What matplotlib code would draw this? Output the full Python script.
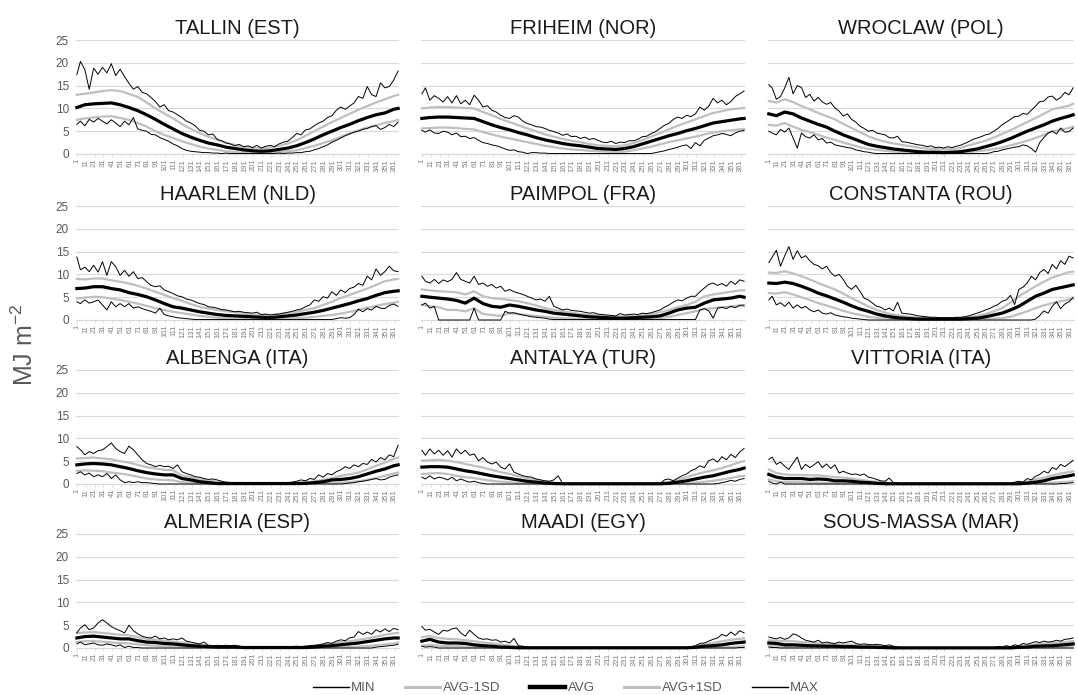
import matplotlib
matplotlib.use("Agg")
import matplotlib.pyplot as plt
from matplotlib.lines import Line2D

plt.rcParams['font.family'] = ['Liberation Sans', 'DejaVu Sans']
plt.rcParams['mathtext.default'] = 'regular'

# day positions: smooth series every 10 days, min/max every 5 days
DAYS = [1] + list(range(10, 361, 10)) + [365]
DAYS_5 = [1] + list(range(5, 366, 5))
TICK_DAYS = list(range(1, 366, 10))

# ---------------- TALLIN ----------------
TALLIN_MAX = [17.4, 20.3, 18.5, 14.2, 18.8, 17.5, 19.0, 17.8, 19.8, 17.2,
              18.6, 17.0, 15.5, 14.2, 14.8, 13.5, 13.2, 12.4, 11.5, 10.3,
              10.8, 9.5, 9.2, 8.6, 8.0, 7.2, 6.8, 6.2, 5.2, 5.0,
              4.2, 4.4, 3.2, 2.9, 2.4, 2.2, 1.8, 2.1, 1.6, 1.8,
              1.4, 1.9, 1.3, 1.7, 1.9, 1.6, 2.2, 2.6, 2.8, 3.6,
              4.5, 4.2, 5.3, 5.5, 6.2, 6.8, 7.2, 8.0, 8.4, 9.6,
              10.3, 9.8, 10.5, 11.2, 12.6, 12.2, 14.8, 13.0, 12.6, 15.6,
              14.5, 14.8, 16.2, 18.2]
TALLIN_MIN = [6.5, 7.2, 6.2, 7.6, 7.0, 7.8, 7.2, 6.6, 7.5, 6.8,
              6.0, 7.2, 6.4, 8.0, 5.5, 5.2, 5.0, 4.3, 4.2, 3.6,
              3.2, 2.8, 2.2, 1.8, 1.2, 0.8, 0.6, 0.5, 0.4, 0.3,
              0.3, 0.2, 0.2, 0.1, 0.2, 0.1, 0.1, 0.1, 0.1, 0.1,
              0.1, 0.1, 0.1, 0.1, 0.1, 0.1, 0.2, 0.1, 0.2, 0.2,
              0.3, 0.3, 0.5, 0.6, 0.9, 1.2, 1.6, 2.0, 2.6, 3.0,
              3.5, 4.0, 4.4, 4.8, 5.0, 5.4, 5.6, 6.0, 6.2, 5.4,
              5.8, 6.5, 6.0, 7.0]
TALLIN_AVG = [10.2, 10.8, 11.0, 11.1, 11.2, 10.8, 10.2, 9.5, 8.6, 7.6,
              6.5, 5.5, 4.5, 3.7, 3.0, 2.4, 2.0, 1.5, 1.2, 0.9,
              0.7, 0.6, 0.7, 1.0, 1.3, 1.8, 2.5, 3.3, 4.2, 5.0,
              5.8, 6.5, 7.3, 8.0, 8.6, 9.0, 9.8, 10.0]
TALLIN_HI = [13.0, 13.2, 13.5, 13.8, 14.0, 13.8, 13.2, 12.5, 11.3, 10.0,
             8.9, 7.8, 6.6, 5.5, 4.6, 3.8, 3.1, 2.5, 2.0, 1.5,
             1.3, 1.2, 1.4, 1.8, 2.3, 3.0, 4.0, 5.0, 6.0, 7.0,
             7.9, 8.8, 9.7, 10.5, 11.3, 12.0, 12.7, 13.0]
TALLIN_LO = [7.5, 7.8, 8.0, 8.2, 8.3, 7.9, 7.5, 6.8, 6.0, 5.0,
             4.2, 3.5, 2.8, 2.2, 1.6, 1.2, 0.9, 0.6, 0.4, 0.3,
             0.2, 0.2, 0.3, 0.4, 0.6, 0.8, 1.3, 1.8, 2.4, 3.0,
             3.8, 4.5, 5.2, 5.8, 6.3, 6.8, 7.2, 7.5]

# ---------------- FRIHEIM ----------------
FRIHEIM_MAX = [13.2, 14.5, 11.8, 12.8, 12.2, 11.4, 12.6, 11.2, 12.8, 11.0,
               11.8, 10.8, 12.9, 11.8, 10.3, 10.6, 9.6, 9.2, 8.5, 8.0,
               7.8, 8.4, 8.1, 7.2, 6.7, 6.4, 6.0, 5.9, 5.6, 5.2,
               4.9, 4.6, 4.1, 4.4, 3.8, 3.9, 3.4, 3.7, 3.2, 3.4,
               3.0, 2.6, 2.5, 2.8, 2.3, 2.6, 2.5, 2.9, 2.9, 3.2,
               3.8, 3.9, 4.5, 4.9, 5.6, 6.3, 6.7, 7.6, 8.1, 7.8,
               8.5, 8.2, 8.8, 10.3, 9.6, 10.5, 12.2, 11.2, 11.8, 10.8,
               11.5, 12.6, 13.2, 13.8]
FRIHEIM_MIN = [5.2, 4.8, 5.3, 4.6, 4.5, 5.0, 4.8, 4.2, 4.6, 3.8,
               3.9, 3.4, 3.6, 3.0, 2.5, 2.3, 2.0, 1.8, 1.5, 1.1,
               0.8, 0.9, 0.5, 0.4, 0.1, 0.3, 0.3, 0.2, 0.2, 0.1,
               0.1, 0.1, 0.1, 0.1, 0.1, 0.1, 0.1, 0.1, 0.1, 0.1,
               0.1, 0.1, 0.1, 0.1, 0.1, 0.1, 0.1, 0.1, 0.1, 0.1,
               0.1, 0.1, 0.1, 0.3, 0.5, 0.7, 1.0, 1.2, 1.5, 1.8,
               2.0, 1.2, 2.5, 1.8, 3.0, 3.5, 4.0, 4.2, 4.5, 4.3,
               4.0, 4.6, 5.0, 5.2]
FRIHEIM_AVG = [7.8, 8.0, 8.1, 8.1, 8.0, 7.9, 7.8, 7.1, 6.4, 5.8,
               5.3, 4.7, 4.2, 3.6, 3.1, 2.7, 2.3, 2.0, 1.8, 1.5,
               1.2, 1.1, 1.0, 1.2, 1.6, 2.2, 2.8, 3.4, 4.0, 4.5,
               5.1, 5.6, 6.2, 6.8, 7.1, 7.4, 7.7, 7.8]
FRIHEIM_HI = [10.0, 10.2, 10.3, 10.3, 10.2, 10.1, 10.0, 9.2, 8.5, 7.7,
              7.0, 6.3, 5.6, 5.0, 4.3, 3.8, 3.3, 2.9, 2.6, 2.2,
              1.9, 1.8, 1.7, 1.9, 2.4, 3.0, 3.8, 4.6, 5.4, 6.2,
              6.9, 7.6, 8.3, 9.0, 9.4, 9.8, 10.0, 10.1]
FRIHEIM_LO = [5.6, 5.7, 5.8, 5.8, 5.7, 5.5, 5.4, 4.8, 4.3, 3.8,
              3.4, 3.0, 2.6, 2.2, 1.8, 1.5, 1.2, 1.0, 0.9, 0.7,
              0.6, 0.5, 0.4, 0.5, 0.8, 1.2, 1.6, 2.1, 2.6, 3.0,
              3.4, 3.8, 4.3, 4.7, 5.0, 5.2, 5.4, 5.5]

# ---------------- WROCLAW ----------------
WROCLAW_MAX = [15.2, 14.5, 12.0, 12.6, 14.5, 16.8, 13.2, 15.0, 14.6, 12.4,
               13.1, 11.6, 12.4, 11.4, 10.9, 11.3, 10.1, 9.4, 8.3, 8.8,
               7.6, 7.0, 6.1, 5.6, 5.0, 5.2, 4.6, 4.4, 4.2, 3.6,
               3.5, 3.9, 2.7, 2.6, 2.4, 2.2, 2.0, 1.9, 1.6, 1.8,
               1.4, 1.5, 1.3, 1.6, 1.4, 1.7, 1.9, 2.3, 2.7, 3.2,
               3.5, 3.8, 4.2, 4.4, 5.0, 5.6, 6.4, 7.0, 7.6, 8.2,
               8.3, 8.9, 8.7, 9.6, 10.5, 11.5, 11.6, 12.5, 12.7, 11.8,
               12.4, 13.5, 13.0, 14.5]
WROCLAW_MIN = [5.0, 4.6, 4.2, 5.4, 4.8, 5.7, 3.5, 1.3, 4.6, 3.8,
               3.5, 4.2, 3.1, 3.4, 2.4, 2.6, 2.0, 1.8, 1.6, 1.4,
               1.3, 0.9, 0.7, 0.5, 0.4, 0.2, 0.1, 0.1, 0.1, 0.1,
               0.1, 0.1, 0.1, 0.1, 0.1, 0.1, 0.1, 0.1, 0.1, 0.1,
               0.1, 0.1, 0.1, 0.1, 0.1, 0.1, 0.1, 0.1, 0.1, 0.1,
               0.1, 0.1, 0.1, 0.2, 0.5, 0.6, 0.9, 1.1, 1.3, 1.5,
               1.6, 2.0, 1.8, 1.2, 0.4, 2.5, 3.6, 4.6, 5.0, 4.4,
               5.7, 4.8, 4.9, 5.7]
WROCLAW_AVG = [8.8, 8.4, 9.2, 8.8, 7.9, 7.2, 6.5, 5.9, 5.0, 4.2,
               3.5, 2.8, 2.1, 1.7, 1.4, 1.1, 0.9, 0.7, 0.5, 0.4,
               0.4, 0.3, 0.4, 0.5, 0.8, 1.1, 1.6, 2.1, 2.7, 3.4,
               4.2, 5.0, 5.7, 6.4, 7.2, 7.8, 8.3, 8.6]
WROCLAW_HI = [11.6, 11.3, 12.0, 11.4, 10.5, 9.8, 9.0, 8.3, 7.6, 6.6,
              5.7, 4.8, 3.9, 3.2, 2.7, 2.3, 2.0, 1.7, 1.4, 1.2,
              1.1, 1.0, 1.1, 1.3, 1.9, 2.4, 2.9, 3.6, 4.4, 5.2,
              6.1, 7.0, 7.9, 8.8, 9.8, 10.2, 10.6, 11.0]
WROCLAW_LO = [6.4, 6.2, 6.8, 6.0, 5.3, 4.8, 4.2, 3.6, 3.1, 2.5,
              2.0, 1.5, 1.1, 0.9, 0.7, 0.5, 0.4, 0.3, 0.2, 0.2,
              0.2, 0.2, 0.2, 0.2, 0.4, 0.6, 0.8, 1.1, 1.4, 1.9,
              2.4, 2.9, 3.5, 4.2, 5.0, 5.3, 5.7, 6.0]

# ---------------- HAARLEM ----------------
HAARLEM_MAX = [13.8, 11.0, 11.6, 10.6, 12.0, 10.5, 12.8, 9.8, 12.8, 11.7,
               9.8, 10.9, 9.6, 10.6, 9.1, 9.3, 8.4, 7.6, 7.3, 7.5,
               6.6, 6.2, 5.8, 5.3, 5.1, 4.6, 4.4, 4.0, 3.6, 3.4,
               2.9, 2.8, 2.6, 2.3, 2.2, 2.0, 1.8, 1.9, 1.7, 1.6,
               1.5, 1.7, 1.2, 1.3, 1.1, 1.2, 1.3, 1.5, 1.7, 1.9,
               2.2, 2.4, 2.9, 3.3, 4.4, 4.1, 5.1, 4.8, 6.2, 5.4,
               6.6, 6.0, 6.9, 7.2, 8.0, 7.6, 9.6, 8.8, 11.2, 9.8,
               10.6, 11.8, 10.8, 10.6]
HAARLEM_MIN = [4.0, 3.6, 4.4, 3.7, 4.0, 4.4, 3.3, 2.2, 4.0, 2.9,
               3.6, 2.9, 3.6, 2.6, 2.9, 2.5, 2.2, 1.9, 1.5, 2.6,
               1.2, 0.9, 0.7, 0.5, 0.4, 0.3, 0.2, 0.1, 0.1, 0.1,
               0.1, 0.1, 0.1, 0.1, 0.1, 0.1, 0.1, 0.1, 0.1, 0.1,
               0.1, 0.1, 0.1, 0.1, 0.1, 0.1, 0.1, 0.1, 0.1, 0.1,
               0.1, 0.1, 0.1, 0.1, 0.1, 0.1, 0.1, 0.1, 0.1, 0.3,
               0.5, 0.4, 0.5, 1.2, 2.4, 1.8, 2.5, 2.2, 3.0, 2.6,
               2.5, 3.2, 3.5, 3.0]
HAARLEM_AVG = [6.9, 7.0, 7.3, 7.3, 6.9, 6.6, 6.0, 5.6, 5.1, 4.4,
               3.6, 2.9, 2.6, 2.2, 1.8, 1.5, 1.2, 1.0, 0.9, 0.8,
               0.7, 0.6, 0.5, 0.7, 0.9, 1.1, 1.4, 1.7, 2.1, 2.6,
               3.1, 3.6, 4.2, 4.7, 5.4, 6.0, 6.3, 6.4]
HAARLEM_HI = [9.0, 8.9, 9.1, 9.1, 8.7, 8.4, 8.0, 7.5, 6.9, 6.2,
              5.5, 4.8, 4.2, 3.5, 2.9, 2.5, 2.2, 1.9, 1.7, 1.4,
              1.2, 1.1, 1.1, 1.3, 1.5, 1.8, 2.2, 2.6, 3.3, 4.0,
              4.8, 5.5, 6.2, 6.9, 7.7, 8.5, 8.9, 9.0]
HAARLEM_LO = [4.7, 4.9, 5.1, 5.0, 4.7, 4.4, 4.0, 3.6, 3.1, 2.6,
              2.2, 1.8, 1.5, 1.2, 0.9, 0.7, 0.5, 0.4, 0.3, 0.3,
              0.3, 0.3, 0.3, 0.3, 0.3, 0.4, 0.5, 0.7, 0.9, 1.1,
              1.4, 1.8, 2.2, 2.7, 3.1, 3.5, 3.8, 4.0]

# ---------------- PAIMPOL ----------------
PAIMPOL_MAX = [9.6, 8.5, 8.1, 8.9, 8.0, 8.8, 8.4, 8.9, 10.4, 8.9,
               8.5, 8.1, 9.6, 7.8, 8.1, 7.4, 7.8, 7.0, 7.4, 6.3,
               6.7, 6.2, 5.9, 5.6, 5.2, 4.8, 4.4, 4.6, 4.1, 5.2,
               3.0, 2.6, 2.2, 2.4, 2.1, 2.0, 1.9, 1.7, 1.5, 1.6,
               1.3, 1.2, 1.1, 1.0, 0.9, 1.4, 1.1, 1.2, 1.3, 1.2,
               1.5, 1.4, 1.6, 1.9, 2.2, 2.8, 3.3, 3.9, 4.4, 4.2,
               4.8, 5.2, 5.2, 6.2, 7.0, 7.8, 8.1, 7.6, 8.0, 7.4,
               8.5, 7.8, 8.8, 8.5]
PAIMPOL_MIN = [3.3, 3.7, 2.6, 3.0, 0.0, 0.0, 0.0, 0.0, 0.0, 0.0,
               0.0, 0.0, 2.6, 0.0, 0.0, 0.0, 0.0, 0.0, 0.0, 1.9,
               1.5, 1.6, 1.3, 1.1, 0.9, 0.7, 0.6, 0.5, 0.4, 0.2,
               0.1, 0.1, 0.1, 0.1, 0.1, 0.1, 0.1, 0.1, 0.1, 0.1,
               0.1, 0.1, 0.1, 0.1, 0.1, 0.1, 0.1, 0.1, 0.1, 0.1,
               0.1, 0.1, 0.1, 0.1, 0.1, 0.1, 0.1, 0.1, 0.1, 0.1,
               0.1, 0.1, 0.1, 2.2, 2.5, 2.0, 0.4, 2.6, 2.8, 2.5,
               3.0, 2.7, 3.2, 3.3]
PAIMPOL_AVG = [5.2, 5.0, 4.8, 4.6, 4.3, 3.7, 4.8, 3.6, 3.0, 2.8,
               3.3, 3.0, 2.6, 2.2, 1.9, 1.5, 1.3, 1.1, 0.9, 0.7,
               0.6, 0.5, 0.4, 0.4, 0.5, 0.6, 0.7, 0.9, 1.5, 2.2,
               2.6, 2.8, 3.7, 4.4, 4.6, 4.8, 5.2, 5.0]
PAIMPOL_HI = [6.7, 6.5, 6.3, 6.2, 6.1, 5.6, 6.3, 5.2, 4.8, 4.6,
              4.4, 4.1, 3.7, 3.2, 2.6, 2.2, 1.9, 1.6, 1.3, 1.1,
              1.0, 0.8, 0.7, 0.8, 0.9, 1.1, 1.3, 1.7, 2.2, 2.8,
              3.3, 4.0, 5.2, 5.6, 5.9, 6.2, 6.5, 6.5]
PAIMPOL_LO = [3.3, 3.0, 2.8, 2.2, 2.2, 1.9, 2.6, 1.3, 1.1, 0.9,
              1.5, 1.3, 1.1, 0.9, 0.7, 0.5, 0.4, 0.3, 0.2, 0.2,
              0.2, 0.2, 0.2, 0.2, 0.2, 0.2, 0.3, 0.4, 0.7, 1.1,
              1.5, 1.9, 2.4, 2.6, 2.8, 3.0, 3.2, 3.0]

# ---------------- CONSTANTA ----------------
CONSTANTA_MAX = [12.6, 13.8, 15.3, 11.8, 14.1, 16.1, 13.3, 15.2, 13.6, 14.1,
                 13.0, 12.2, 11.9, 11.2, 11.8, 10.4, 9.6, 10.0, 8.9, 7.4,
                 6.7, 7.6, 6.3, 4.8, 4.4, 3.7, 3.0, 2.8, 2.2, 2.6,
                 2.0, 3.9, 1.5, 1.4, 1.3, 1.1, 0.9, 0.8, 0.7, 0.6,
                 0.6, 0.5, 0.5, 0.5, 0.5, 0.6, 0.6, 0.7, 0.9, 1.2,
                 1.5, 1.8, 2.2, 2.5, 3.0, 3.4, 4.1, 4.4, 5.4, 3.4,
                 6.7, 7.2, 8.1, 9.6, 8.8, 10.4, 11.1, 10.2, 12.2, 11.2,
                 13.0, 12.2, 14.0, 13.6]
CONSTANTA_MIN = [4.4, 5.2, 3.3, 3.8, 3.0, 3.9, 2.6, 3.3, 2.6, 3.0,
                 2.2, 1.8, 2.2, 1.5, 1.3, 1.6, 1.1, 0.9, 0.7, 0.6,
                 0.4, 0.3, 0.2, 0.1, 0.0, 0.0, 0.0, 0.0, 0.0, 0.0,
                 0.0, 0.0, 0.0, 0.0, 0.0, 0.0, 0.0, 0.0, 0.0, 0.0,
                 0.0, 0.0, 0.0, 0.0, 0.0, 0.0, 0.0, 0.0, 0.0, 0.0,
                 0.0, 0.0, 0.0, 0.0, 0.0, 0.0, 0.0, 0.0, 0.0, 0.0,
                 0.0, 0.0, 0.0, 0.0, 0.2, 1.0, 2.0, 1.5, 3.0, 4.0,
                 2.5, 3.5, 4.0, 5.0]
CONSTANTA_AVG = [8.1, 8.0, 8.3, 8.0, 7.4, 6.7, 5.9, 5.3, 4.6, 3.9,
                 3.1, 2.4, 1.9, 1.3, 0.9, 0.6, 0.4, 0.3, 0.2, 0.2,
                 0.2, 0.2, 0.2, 0.2, 0.3, 0.4, 0.7, 1.1, 1.5, 2.2,
                 3.0, 4.1, 5.2, 5.9, 6.7, 7.1, 7.5, 7.7]
CONSTANTA_HI = [10.4, 10.3, 10.7, 10.2, 9.6, 8.9, 8.1, 7.4, 6.7, 5.8,
                4.8, 3.9, 3.0, 2.2, 1.6, 1.2, 0.9, 0.7, 0.5, 0.4,
                0.4, 0.4, 0.4, 0.4, 0.6, 0.9, 1.3, 1.9, 2.6, 3.8,
                5.2, 6.3, 7.4, 8.4, 9.3, 9.9, 10.5, 10.6]
CONSTANTA_LO = [5.9, 5.8, 6.1, 5.6, 5.0, 4.4, 3.7, 3.2, 2.6, 2.0,
                1.5, 1.1, 0.7, 0.5, 0.4, 0.2, 0.1, 0.1, 0.1, 0.1,
                0.1, 0.1, 0.1, 0.1, 0.1, 0.1, 0.1, 0.3, 0.4, 0.7,
                1.3, 1.9, 2.6, 3.2, 3.7, 4.1, 4.5, 4.6]

# ---------------- ALBENGA ----------------
ALBENGA_MAX = [8.2, 7.5, 6.4, 7.1, 6.7, 7.3, 7.5, 8.2, 9.0, 7.8,
               7.1, 6.7, 8.3, 7.5, 6.4, 5.3, 4.5, 4.2, 3.8, 4.1,
               3.8, 3.9, 3.4, 4.2, 2.7, 2.3, 2.0, 1.6, 1.5, 1.2,
               1.0, 1.1, 0.9, 0.6, 0.4, 0.3, 0.2, 0.2, 0.2, 0.2,
               0.2, 0.2, 0.2, 0.2, 0.2, 0.2, 0.2, 0.2, 0.3, 0.4,
               0.6, 0.9, 0.7, 1.2, 1.0, 2.0, 1.5, 2.3, 2.0, 2.7,
               3.1, 3.8, 3.4, 4.2, 3.8, 4.5, 4.3, 5.4, 4.8, 5.8,
               5.3, 6.4, 6.0, 8.5]
ALBENGA_MIN = [2.3, 2.7, 2.0, 2.4, 1.6, 2.0, 1.6, 2.3, 1.2, 2.0,
               0.9, 0.3, 0.5, 0.3, 0.5, 0.3, 0.3, 0.2, 0.1, 0.0,
               0.0, 0.0, 0.0, 0.0, 0.0, 0.0, 0.0, 0.0, 0.0, 0.0,
               0.0, 0.0, 0.0, 0.0, 0.0, 0.0, 0.0, 0.0, 0.0, 0.0,
               0.0, 0.0, 0.0, 0.0, 0.0, 0.0, 0.0, 0.0, 0.0, 0.0,
               0.0, 0.0, 0.0, 0.0, 0.0, 0.0, 0.0, 0.0, 0.0, 0.0,
               0.0, 0.1, 0.2, 0.3, 0.5, 0.6, 0.8, 1.0, 1.2, 0.9,
               1.0, 1.5, 1.8, 2.0]
ALBENGA_AVG = [4.2, 4.4, 4.5, 4.4, 4.2, 3.8, 3.4, 2.9, 2.5, 2.2,
               2.0, 2.0, 1.2, 0.9, 0.5, 0.3, 0.1, 0.1, 0.1, 0.1,
               0.1, 0.1, 0.1, 0.1, 0.1, 0.1, 0.15, 0.3, 0.5, 0.9,
               1.0, 1.2, 1.6, 2.2, 2.8, 3.3, 4.0, 4.2]
ALBENGA_HI = [5.6, 5.7, 5.8, 5.6, 5.4, 5.0, 4.7, 4.2, 3.7, 3.4,
              3.1, 3.0, 1.9, 1.5, 1.0, 0.7, 0.5, 0.3, 0.2, 0.2,
              0.2, 0.2, 0.2, 0.2, 0.2, 0.3, 0.3, 0.6, 0.9, 1.3,
              1.8, 2.1, 2.5, 3.2, 4.0, 4.7, 5.5, 5.8]
ALBENGA_LO = [2.9, 3.0, 2.9, 2.8, 2.5, 2.3, 2.0, 1.6, 1.2, 1.0,
              0.9, 0.8, 0.4, 0.3, 0.1, 0.05, 0.0, 0.0, 0.0, 0.0,
              0.0, 0.0, 0.0, 0.0, 0.0, 0.0, 0.0, 0.05, 0.1, 0.2,
              0.3, 0.4, 0.6, 0.9, 1.3, 1.8, 2.3, 2.5]

# ---------------- ANTALYA ----------------
ANTALYA_MAX = [7.4, 6.3, 7.7, 6.6, 7.4, 6.3, 7.3, 5.9, 7.7, 6.6,
               7.4, 6.3, 6.6, 5.1, 5.8, 4.8, 4.4, 4.8, 3.7, 3.3,
               4.4, 2.6, 2.2, 1.8, 1.6, 1.5, 1.1, 0.9, 0.7, 0.6,
               0.9, 1.8, 0.1, 0.05, 0.05, 0.05, 0.05, 0.05, 0.05, 0.05,
               0.05, 0.05, 0.05, 0.05, 0.05, 0.05, 0.05, 0.05, 0.05, 0.05,
               0.05, 0.05, 0.05, 0.05, 0.05, 0.9, 1.1, 0.7, 1.3, 1.8,
               2.2, 2.9, 3.3, 4.0, 3.6, 5.1, 5.5, 4.8, 6.0, 5.3,
               6.5, 5.8, 7.0, 7.8]
ANTALYA_MIN = [1.5, 1.1, 1.8, 1.1, 1.5, 1.3, 0.9, 1.5, 0.7, 1.1,
               0.7, 0.4, 0.6, 0.3, 0.1, 0.0, 0.0, 0.0, 0.0, 0.0,
               0.0, 0.0, 0.0, 0.0, 0.0, 0.0, 0.0, 0.0, 0.0, 0.0,
               0.0, 0.0, 0.0, 0.0, 0.0, 0.0, 0.0, 0.0, 0.0, 0.0,
               0.0, 0.0, 0.0, 0.0, 0.0, 0.0, 0.0, 0.0, 0.0, 0.0,
               0.0, 0.0, 0.0, 0.0, 0.0, 0.0, 0.0, 0.0, 0.0, 0.0,
               0.0, 0.0, 0.0, 0.0, 0.0, 0.0, 0.0, 0.1, 0.3, 0.5,
               0.8, 0.6, 1.0, 1.2]
ANTALYA_AVG = [3.7, 3.8, 3.8, 3.7, 3.3, 2.9, 2.6, 2.2, 1.8, 1.5,
               1.2, 0.9, 0.6, 0.4, 0.2, 0.1, 0.05, 0.05, 0.05, 0.05,
               0.05, 0.05, 0.05, 0.05, 0.05, 0.05, 0.05, 0.05, 0.15, 0.4,
               0.7, 1.1, 1.5, 1.8, 2.3, 2.8, 3.2, 3.5]
ANTALYA_HI = [5.1, 5.2, 5.3, 5.1, 4.8, 4.4, 4.0, 3.6, 3.1, 2.6,
              2.2, 1.7, 1.3, 0.9, 0.6, 0.3, 0.1, 0.05, 0.05, 0.05,
              0.05, 0.05, 0.05, 0.05, 0.05, 0.05, 0.05, 0.1, 0.4, 0.9,
              1.5, 2.1, 2.6, 3.0, 3.5, 4.1, 4.8, 5.0]
ANTALYA_LO = [2.2, 2.3, 2.4, 2.2, 1.8, 1.5, 1.3, 1.0, 0.7, 0.5,
              0.4, 0.2, 0.1, 0.0, 0.0, 0.0, 0.0, 0.0, 0.0, 0.0,
              0.0, 0.0, 0.0, 0.0, 0.0, 0.0, 0.0, 0.0, 0.0, 0.0,
              0.05, 0.3, 0.5, 0.7, 1.0, 1.3, 1.7, 1.8]

# ---------------- VITTORIA ----------------
VITTORIA_MAX = [5.4, 5.9, 4.3, 4.8, 3.9, 3.2, 4.6, 5.9, 3.2, 4.3,
                3.6, 4.2, 4.9, 3.6, 4.4, 3.4, 4.2, 2.4, 2.8, 2.4,
                2.1, 2.2, 1.9, 2.2, 1.5, 1.3, 1.0, 0.7, 0.6, 1.3,
                0.3, 0.2, 0.1, 0.1, 0.1, 0.1, 0.1, 0.1, 0.1, 0.1,
                0.1, 0.1, 0.1, 0.1, 0.1, 0.1, 0.1, 0.1, 0.1, 0.1,
                0.1, 0.1, 0.1, 0.1, 0.1, 0.1, 0.1, 0.1, 0.1, 0.4,
                0.6, 0.4, 1.2, 0.9, 1.7, 2.1, 2.8, 2.4, 3.6, 3.2,
                4.3, 3.8, 4.5, 5.2]
VITTORIA_MIN = [0.6, 0.2, 0.0, 0.4, 0.0, 0.0, 0.0, 0.0, 0.0, 0.0,
                0.0, 0.0, 0.0, 0.0, 0.0, 0.0, 0.0, 0.0, 0.0, 0.0,
                0.0, 0.0, 0.0, 0.0, 0.0, 0.0, 0.0, 0.0, 0.0, 0.0,
                0.0, 0.0, 0.0, 0.0, 0.0, 0.0, 0.0, 0.0, 0.0, 0.0,
                0.0, 0.0, 0.0, 0.0, 0.0, 0.0, 0.0, 0.0, 0.0, 0.0,
                0.0, 0.0, 0.0, 0.0, 0.0, 0.0, 0.0, 0.0, 0.0, 0.0,
                0.0, 0.0, 0.0, 0.0, 0.0, 0.0, 0.0, 0.0, 0.0, 0.0,
                0.1, 0.1, 0.2, 0.3]
VITTORIA_AVG = [2.1, 1.5, 1.2, 1.2, 1.2, 1.0, 1.1, 1.0, 0.7, 0.7,
                0.6, 0.4, 0.3, 0.15, 0.05, 0.05, 0.05, 0.05, 0.05, 0.05,
                0.05, 0.05, 0.05, 0.05, 0.05, 0.05, 0.05, 0.05, 0.05, 0.05,
                0.05, 0.2, 0.4, 0.7, 1.2, 1.5, 1.8, 2.0]
VITTORIA_HI = [3.2, 2.4, 2.1, 2.0, 2.0, 1.9, 1.9, 1.7, 1.5, 1.4,
               1.2, 0.9, 0.7, 0.5, 0.3, 0.1, 0.05, 0.05, 0.05, 0.05,
               0.05, 0.05, 0.05, 0.05, 0.05, 0.05, 0.05, 0.05, 0.05, 0.05,
               0.2, 0.5, 1.0, 1.4, 1.9, 2.3, 2.6, 2.8]
VITTORIA_LO = [1.0, 0.6, 0.4, 0.4, 0.4, 0.3, 0.3, 0.2, 0.15, 0.1,
               0.05, 0.0, 0.0, 0.0, 0.0, 0.0, 0.0, 0.0, 0.0, 0.0,
               0.0, 0.0, 0.0, 0.0, 0.0, 0.0, 0.0, 0.0, 0.0, 0.0,
               0.0, 0.0, 0.05, 0.15, 0.3, 0.4, 0.5, 0.6]

# ---------------- ALMERIA ----------------
ALMERIA_MAX = [3.3, 4.4, 5.1, 4.0, 4.4, 5.5, 6.2, 5.5, 4.7, 4.2,
               3.8, 3.3, 5.0, 3.8, 3.1, 2.6, 2.3, 2.2, 2.6, 2.0,
               2.2, 1.8, 2.0, 1.8, 2.2, 1.5, 1.3, 1.1, 0.9, 1.3,
               0.6, 0.4, 0.6, 0.5, 0.6, 0.5, 0.6, 0.4, 0.1, 0.1,
               0.1, 0.1, 0.1, 0.2, 0.1, 0.1, 0.1, 0.2, 0.1, 0.3,
               0.4, 0.3, 0.4, 0.5, 0.6, 0.7, 0.9, 1.2, 1.0, 1.5,
               1.8, 1.6, 2.2, 2.4, 3.6, 3.0, 3.5, 3.0, 4.0, 3.5,
               4.2, 3.6, 4.3, 4.0]
ALMERIA_MIN = [0.9, 1.3, 0.7, 0.9, 1.1, 0.7, 0.6, 0.9, 0.7, 0.4,
               0.7, 0.1, 0.4, 0.1, 0.1, 0.0, 0.0, 0.0, 0.0, 0.0,
               0.0, 0.0, 0.0, 0.0, 0.0, 0.0, 0.0, 0.0, 0.0, 0.0,
               0.0, 0.0, 0.0, 0.0, 0.0, 0.0, 0.0, 0.0, 0.0, 0.0,
               0.0, 0.0, 0.0, 0.0, 0.0, 0.0, 0.0, 0.0, 0.0, 0.0,
               0.0, 0.0, 0.0, 0.0, 0.0, 0.0, 0.0, 0.0, 0.0, 0.0,
               0.0, 0.0, 0.0, 0.0, 0.0, 0.0, 0.0, 0.0, 0.2, 0.3,
               0.4, 0.5, 0.6, 0.8]
ALMERIA_AVG = [2.2, 2.5, 2.6, 2.4, 2.2, 2.0, 2.0, 1.6, 1.3, 1.2,
               1.0, 0.9, 0.7, 0.5, 0.4, 0.3, 0.2, 0.2, 0.2, 0.1,
               0.1, 0.1, 0.1, 0.1, 0.1, 0.1, 0.1, 0.2, 0.4, 0.5,
               0.7, 0.9, 1.1, 1.4, 1.7, 2.0, 2.2, 2.2]
ALMERIA_HI = [3.3, 3.4, 3.5, 3.3, 3.1, 2.9, 2.8, 2.4, 2.0, 1.8,
              1.6, 1.4, 1.2, 0.9, 0.7, 0.5, 0.4, 0.4, 0.4, 0.2,
              0.15, 0.15, 0.15, 0.15, 0.15, 0.15, 0.3, 0.5, 0.7, 1.0,
              1.3, 1.5, 1.8, 2.1, 2.5, 2.9, 3.2, 3.3]
ALMERIA_LO = [1.3, 1.5, 1.5, 1.4, 1.2, 1.1, 1.0, 0.8, 0.6, 0.5,
              0.4, 0.35, 0.3, 0.2, 0.15, 0.1, 0.05, 0.05, 0.05, 0.05,
              0.05, 0.05, 0.05, 0.05, 0.05, 0.05, 0.05, 0.05, 0.05, 0.05,
              0.1, 0.2, 0.3, 0.4, 0.6, 0.8, 1.0, 1.2]

# ---------------- MAADI ----------------
MAADI_MAX = [4.7, 3.9, 4.1, 3.5, 3.0, 3.9, 3.7, 4.2, 4.4, 3.3,
             2.6, 3.9, 3.0, 2.2, 1.9, 2.0, 1.7, 1.8, 1.3, 1.5,
             1.1, 2.1, 0.5, 0.4, 0.2, 0.05, 0.05, 0.05, 0.05, 0.05,
             0.05, 0.05, 0.05, 0.05, 0.05, 0.05, 0.05, 0.05, 0.05, 0.05,
             0.05, 0.05, 0.05, 0.05, 0.05, 0.05, 0.05, 0.05, 0.05, 0.05,
             0.05, 0.05, 0.05, 0.05, 0.05, 0.05, 0.05, 0.05, 0.05, 0.05,
             0.05, 0.2, 0.5, 1.0, 1.1, 1.5, 1.9, 2.2, 3.0, 2.6,
             3.5, 2.8, 3.8, 3.3]
MAADI_MIN = [0.4, 0.2, 0.3, 0.2, 0.0, 0.0, 0.0, 0.0, 0.0, 0.0,
             0.0, 0.0, 0.0, 0.0, 0.0, 0.0, 0.0, 0.0, 0.0, 0.0,
             0.0, 0.0, 0.0, 0.0, 0.0, 0.0, 0.0, 0.0, 0.0, 0.0,
             0.0, 0.0, 0.0, 0.0, 0.0, 0.0, 0.0, 0.0, 0.0, 0.0,
             0.0, 0.0, 0.0, 0.0, 0.0, 0.0, 0.0, 0.0, 0.0, 0.0,
             0.0, 0.0, 0.0, 0.0, 0.0, 0.0, 0.0, 0.0, 0.0, 0.0,
             0.0, 0.0, 0.0, 0.0, 0.0, 0.0, 0.0, 0.0, 0.0, 0.0,
             0.0, 0.0, 0.1, 0.1]
MAADI_AVG = [1.5, 1.9, 1.3, 1.1, 1.1, 1.0, 0.7, 0.5, 0.4, 0.2,
             0.15, 0.05, 0.05, 0.05, 0.05, 0.05, 0.05, 0.05, 0.05, 0.05,
             0.05, 0.05, 0.05, 0.05, 0.05, 0.05, 0.05, 0.05, 0.05, 0.05,
             0.05, 0.15, 0.4, 0.5, 0.7, 1.0, 1.2, 1.3]
MAADI_HI = [2.4, 2.6, 2.2, 2.0, 1.9, 1.7, 1.5, 1.2, 1.0, 0.8,
            0.5, 0.3, 0.15, 0.05, 0.05, 0.05, 0.05, 0.05, 0.05, 0.05,
            0.05, 0.05, 0.05, 0.05, 0.05, 0.05, 0.05, 0.05, 0.05, 0.05,
            0.05, 0.4, 0.8, 1.1, 1.5, 1.8, 2.0, 2.1]
MAADI_LO = [0.5, 0.7, 0.5, 0.4, 0.4, 0.3, 0.2, 0.15, 0.1, 0.05,
            0.0, 0.0, 0.0, 0.0, 0.0, 0.0, 0.0, 0.0, 0.0, 0.0,
            0.0, 0.0, 0.0, 0.0, 0.0, 0.0, 0.0, 0.0, 0.0, 0.0,
            0.0, 0.0, 0.0, 0.0, 0.1, 0.2, 0.3, 0.4]

# ---------------- SOUS-MASSA ----------------
SOUSMASSA_MAX = [2.4, 2.2, 2.0, 2.3, 1.9, 2.2, 3.1, 2.8, 2.2, 1.7,
                 1.5, 1.3, 1.7, 1.1, 1.3, 1.1, 1.0, 1.3, 1.1, 1.3,
                 1.5, 1.0, 0.8, 0.9, 0.8, 0.7, 0.8, 0.7, 0.5, 0.7,
                 0.4, 0.2, 0.1, 0.1, 0.1, 0.1, 0.1, 0.1, 0.1, 0.1,
                 0.1, 0.1, 0.1, 0.1, 0.1, 0.1, 0.1, 0.1, 0.1, 0.1,
                 0.1, 0.1, 0.1, 0.1, 0.1, 0.3, 0.2, 0.5, 0.3, 0.7,
                 0.5, 1.0, 0.8, 1.1, 1.4, 1.2, 1.5, 1.3, 1.4, 1.7,
                 1.5, 1.9, 2.0, 2.2]
SOUSMASSA_MIN = [0.2, 0.1, 0.1, 0.0, 0.0, 0.0, 0.0, 0.0, 0.0, 0.0,
                 0.0, 0.0, 0.0, 0.0, 0.0, 0.0, 0.0, 0.0, 0.0, 0.0,
                 0.0, 0.0, 0.0, 0.0, 0.0, 0.0, 0.0, 0.0, 0.0, 0.0,
                 0.0, 0.0, 0.0, 0.0, 0.0, 0.0, 0.0, 0.0, 0.0, 0.0,
                 0.0, 0.0, 0.0, 0.0, 0.0, 0.0, 0.0, 0.0, 0.0, 0.0,
                 0.0, 0.0, 0.0, 0.0, 0.0, 0.0, 0.0, 0.0, 0.0, 0.0,
                 0.0, 0.0, 0.0, 0.0, 0.0, 0.0, 0.0, 0.0, 0.0, 0.0,
                 0.0, 0.0, 0.0, 0.0]
SOUSMASSA_AVG = [1.1, 1.0, 0.7, 0.7, 0.6, 0.5, 0.45, 0.4, 0.4, 0.3,
                 0.3, 0.2, 0.2, 0.15, 0.1, 0.03, 0.03, 0.03, 0.03, 0.03,
                 0.03, 0.03, 0.03, 0.03, 0.03, 0.03, 0.03, 0.03, 0.03, 0.03,
                 0.15, 0.2, 0.4, 0.45, 0.5, 0.65, 0.8, 0.9]
SOUSMASSA_HI = [1.7, 1.6, 1.5, 1.5, 1.3, 1.2, 1.0, 0.9, 0.8, 0.75,
                0.7, 0.6, 0.5, 0.4, 0.3, 0.15, 0.05, 0.05, 0.05, 0.05,
                0.05, 0.05, 0.05, 0.05, 0.05, 0.05, 0.05, 0.05, 0.05, 0.05,
                0.4, 0.6, 0.8, 0.95, 1.1, 1.25, 1.4, 1.5]
SOUSMASSA_LO = [0.5, 0.35, 0.2, 0.2, 0.15, 0.1, 0.05, 0.05, 0.05, 0.05,
                0.05, 0.0, 0.0, 0.0, 0.0, 0.0, 0.0, 0.0, 0.0, 0.0,
                0.0, 0.0, 0.0, 0.0, 0.0, 0.0, 0.0, 0.0, 0.0, 0.0,
                0.05, 0.05, 0.1, 0.1, 0.15, 0.2, 0.3, 0.35]

STATIONS = [
    ("TALLIN (EST)", TALLIN_MIN, TALLIN_LO, TALLIN_AVG, TALLIN_HI, TALLIN_MAX),
    ("FRIHEIM (NOR)", FRIHEIM_MIN, FRIHEIM_LO, FRIHEIM_AVG, FRIHEIM_HI, FRIHEIM_MAX),
    ("WROCLAW (POL)", WROCLAW_MIN, WROCLAW_LO, WROCLAW_AVG, WROCLAW_HI, WROCLAW_MAX),
    ("HAARLEM (NLD)", HAARLEM_MIN, HAARLEM_LO, HAARLEM_AVG, HAARLEM_HI, HAARLEM_MAX),
    ("PAIMPOL (FRA)", PAIMPOL_MIN, PAIMPOL_LO, PAIMPOL_AVG, PAIMPOL_HI, PAIMPOL_MAX),
    ("CONSTANTA (ROU)", CONSTANTA_MIN, CONSTANTA_LO, CONSTANTA_AVG, CONSTANTA_HI, CONSTANTA_MAX),
    ("ALBENGA (ITA)", ALBENGA_MIN, ALBENGA_LO, ALBENGA_AVG, ALBENGA_HI, ALBENGA_MAX),
    ("ANTALYA (TUR)", ANTALYA_MIN, ANTALYA_LO, ANTALYA_AVG, ANTALYA_HI, ANTALYA_MAX),
    ("VITTORIA (ITA)", VITTORIA_MIN, VITTORIA_LO, VITTORIA_AVG, VITTORIA_HI, VITTORIA_MAX),
    ("ALMERIA (ESP)", ALMERIA_MIN, ALMERIA_LO, ALMERIA_AVG, ALMERIA_HI, ALMERIA_MAX),
    ("MAADI (EGY)", MAADI_MIN, MAADI_LO, MAADI_AVG, MAADI_HI, MAADI_MAX),
    ("SOUS-MASSA (MAR)", SOUSMASSA_MIN, SOUSMASSA_LO, SOUSMASSA_AVG, SOUSMASSA_HI, SOUSMASSA_MAX),
]

# quick sanity check on list lengths
for name, mn, lo, avg, hi, mx in STATIONS:
    for lab, arr, ref in [("min", mn, DAYS_5), ("lo", lo, DAYS), ("avg", avg, DAYS),
                          ("hi", hi, DAYS), ("max", mx, DAYS_5)]:
        if len(arr) != len(ref):
            raise ValueError(f"{name} {lab}: {len(arr)} != {len(ref)}")

GREY_TXT = '#595959'
GRID = '#d9d9d9'
SD_COL = '#bfbfbf'

# axes placement in figure pixels (left, width) per column, (top of 25, bottom of 0) per row
W, H = 1078, 695
COLS = [(76, 323), (421, 324), (768, 306)]
ROWS = [(40, 154), (206, 320), (370, 484), (534, 648)]

fig = plt.figure(figsize=(W / 100, H / 100), dpi=100)

for i, (name, mn, lo, avg, hi, mx) in enumerate(STATIONS):
    r, c = divmod(i, 3)
    x0, w = COLS[c]
    top, bot = ROWS[r]
    ax = fig.add_axes([x0 / W, 1 - bot / H, w / W, (bot - top) / H])

    ax.plot(DAYS, lo, color=SD_COL, lw=1.6, zorder=2, clip_on=False)
    ax.plot(DAYS, hi, color=SD_COL, lw=1.6, zorder=2, clip_on=False)
    ax.plot(DAYS_5, mn, color='black', lw=0.7, zorder=3, clip_on=False)
    ax.plot(DAYS_5, mx, color='black', lw=0.7, zorder=3, clip_on=False)
    ax.plot(DAYS, avg, color='black', lw=2.3, zorder=4, clip_on=False)

    ax.set_xlim(0, 366)
    ax.set_ylim(0, 25)
    ax.set_yticks([0, 5, 10, 15, 20, 25])
    ax.yaxis.grid(True, color=GRID, lw=0.8)
    ax.set_axisbelow(True)
    for s in ['top', 'right', 'left']:
        ax.spines[s].set_visible(False)
    ax.spines['bottom'].set_color(GRID)
    ax.spines['bottom'].set_linewidth(0.8)

    ax.set_xticks(TICK_DAYS)
    ax.set_xticklabels([str(d) for d in TICK_DAYS], rotation=90, fontsize=5.5, color='#7f7f7f')
    ax.tick_params(axis='x', length=2, width=0.6, color=GRID, pad=1.5)
    if c == 0:
        ax.tick_params(axis='y', length=0, labelsize=8.5, labelcolor=GREY_TXT, pad=5)
    else:
        ax.tick_params(axis='y', length=0, labelleft=False)

    ax.set_title(name, fontsize=14.5, pad=4, color='#1a1a1a')

fig.text(25 / W, 1 - 345 / H, 'MJ m$^{-2}$', rotation=90, fontsize=18,
         color=GREY_TXT, ha='center', va='center')

handles = [
    Line2D([], [], color='black', lw=1.0),
    Line2D([], [], color=SD_COL, lw=2.2),
    Line2D([], [], color='black', lw=3.2),
    Line2D([], [], color=SD_COL, lw=2.2),
    Line2D([], [], color='black', lw=1.0),
]
labels = ['MIN', 'AVG-1SD', 'AVG', 'AVG+1SD', 'MAX']
leg = fig.legend(handles, labels, loc='center', bbox_to_anchor=(566 / W, 1 - 688 / H),
                 ncol=5, frameon=False, fontsize=9.5, handlelength=2.7,
                 handletextpad=0.2, columnspacing=2.2)
for t in leg.get_texts():
    t.set_color(GREY_TXT)

fig.savefig('out.png', dpi=100)
